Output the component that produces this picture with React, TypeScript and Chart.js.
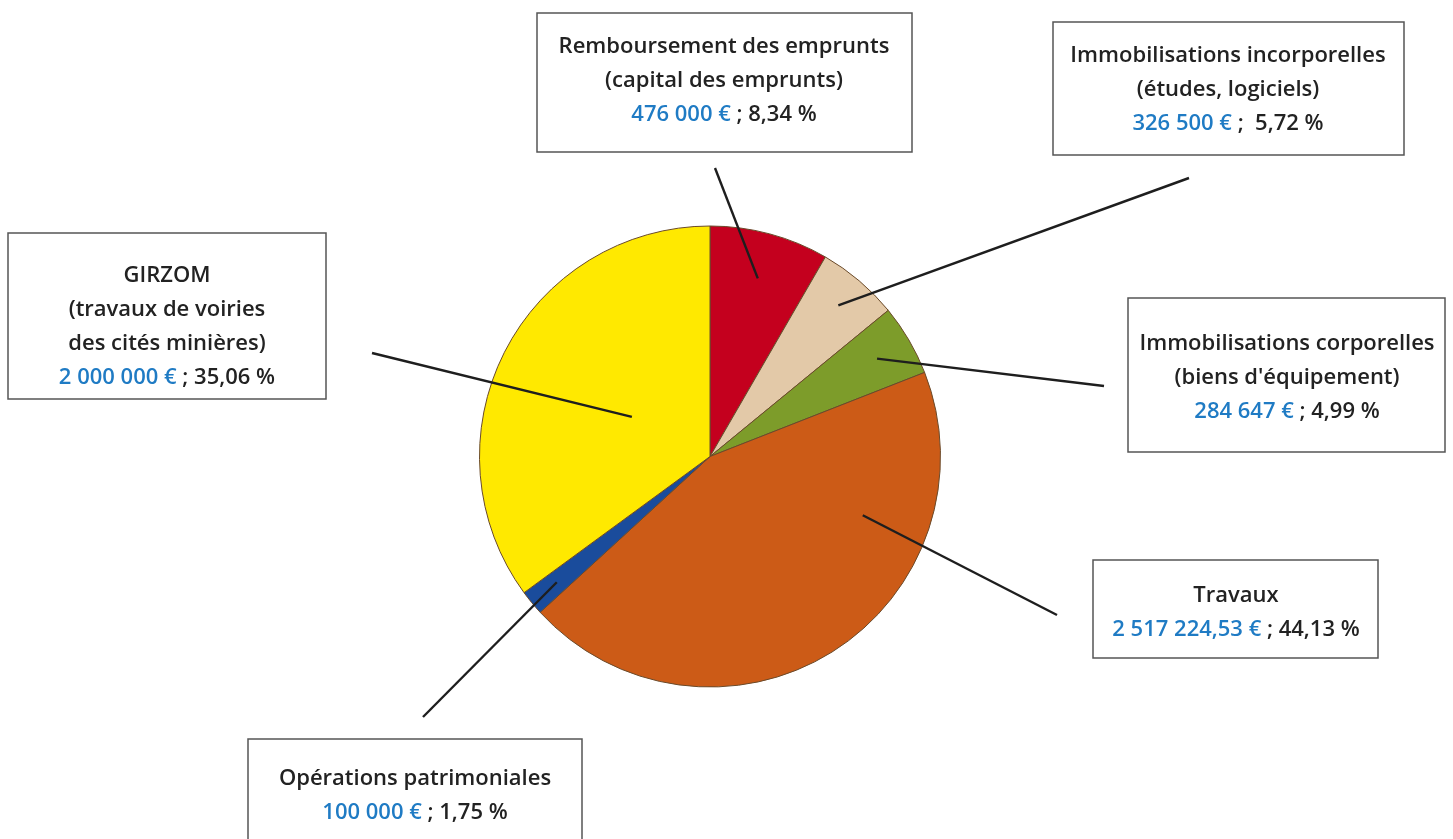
import React, { useEffect, useRef } from "react";
import { Chart, registerables } from "chart.js";

Chart.register(...registerables);

// ---- data ----
const CATEGORIES = [
  "Remboursement des emprunts",
  "Immobilisations incorporelles",
  "Immobilisations corporelles",
  "Travaux",
  "Opérations patrimoniales",
  "GIRZOM",
];
const TITLE_LINES: string[][] = [
  ["Remboursement des emprunts", "(capital des emprunts)"],
  ["Immobilisations incorporelles", "(études, logiciels)"],
  ["Immobilisations corporelles", "(biens d'équipement)"],
  ["Travaux"],
  ["Opérations patrimoniales"],
  ["GIRZOM", "(travaux de voiries", "des cités minières)"],
];
const VALUES = [476000, 326500, 284647, 2517224.53, 100000, 2000000];
const AMOUNT_TEXT = ["476 000 €", "326 500 €", "284 647 €", "2 517 224,53 €", "100 000 €", "2 000 000 €"];
const PERCENT_TEXT = [" ; 8,34 %", " ;  5,72 %", " ; 4,99 %", " ; 44,13 %", " ; 1,75 %", " ; 35,06 %"];
const COLORS = ["#C4001E", "#E3C9A8", "#7D9C2A", "#CC5B17", "#1A4C9C", "#FFE900"];

// ---- layout (positions / styles) ----
const BOXES = [
  { x: 537, y: 13, w: 375, h: 139, cx: 724, firstBase: 53, lx: 715, ly: 168, t: 0.5, r: 0.8 },
  { x: 1053, y: 22, w: 351, h: 133, cx: 1228, firstBase: 62, lx: 1189, ly: 178, t: 0.5, r: 0.86 },
  { x: 1128, y: 298, w: 317, h: 154, cx: 1287, firstBase: 350, lx: 1104, ly: 386, t: 0.5, r: 0.84 },
  { x: 1093, y: 560, w: 285, h: 98, cx: 1236, firstBase: 602, lx: 1057, ly: 615, t: 0.267, r: 0.71 },
  { x: 248, y: 739, w: 334, h: 110, cx: 415, firstBase: 785, lx: 423, ly: 717, t: 0.5, r: 0.86 },
  { x: 8, y: 233, w: 318, h: 166, cx: 167, firstBase: 282, lx: 372, ly: 353, t: 0.5, r: 0.38 },
];
const LINE_GAP = 34;
const FONT = "600 22px 'Open Sans', sans-serif";
const BLUE = "#1F7BC4";
const DARK = "#222222";

const calloutPlugin = {
  id: "callouts",
  afterDatasetsDraw(chart: any) {
    const ctx = chart.ctx as CanvasRenderingContext2D;
    const meta = chart.getDatasetMeta(0);
    ctx.save();
    BOXES.forEach((b, i) => {
      const arc = meta.data[i] as any;
      const p = arc.getProps(["x", "y", "startAngle", "endAngle", "outerRadius"], true);
      const a = p.startAngle + (p.endAngle - p.startAngle) * b.t;
      const rr = p.outerRadius * b.r;
      const ex = p.x + Math.cos(a) * rr;
      const ey = p.y + Math.sin(a) * rr;
      // leader line
      ctx.strokeStyle = "#1e1e1e";
      ctx.lineWidth = 2.4;
      ctx.beginPath();
      ctx.moveTo(b.lx, b.ly);
      ctx.lineTo(ex, ey);
      ctx.stroke();
      // box
      ctx.fillStyle = "#ffffff";
      ctx.fillRect(b.x, b.y, b.w, b.h);
      ctx.strokeStyle = "#555555";
      ctx.lineWidth = 1.5;
      ctx.strokeRect(b.x, b.y, b.w, b.h);
      // text
      ctx.font = FONT;
      ctx.textBaseline = "alphabetic";
      ctx.textAlign = "left";
      const lines = TITLE_LINES[i];
      lines.forEach((ln, k) => {
        const w = ctx.measureText(ln).width;
        ctx.fillStyle = DARK;
        ctx.fillText(ln, b.cx - w / 2, b.firstBase + k * LINE_GAP);
      });
      const yv = b.firstBase + lines.length * LINE_GAP;
      const w1 = ctx.measureText(AMOUNT_TEXT[i]).width;
      const w2 = ctx.measureText(PERCENT_TEXT[i]).width;
      const x0 = b.cx - (w1 + w2) / 2;
      ctx.fillStyle = BLUE;
      ctx.fillText(AMOUNT_TEXT[i], x0, yv);
      ctx.fillStyle = DARK;
      ctx.fillText(PERCENT_TEXT[i], x0 + w1, yv);
    });
    ctx.restore();
  },
};

export default function App() {
  const ref = useRef<HTMLCanvasElement | null>(null);
  useEffect(() => {
    if (!ref.current) return;
    const chart = new Chart(ref.current, {
      type: "pie",
      data: {
        labels: CATEGORIES,
        datasets: [
          {
            data: VALUES,
            backgroundColor: COLORS,
            borderColor: "#6a4a2a",
            borderWidth: 1,
            hoverOffset: 0,
          },
        ],
      },
      options: {
        responsive: false,
        animation: false,
        events: [],
        layout: { padding: { left: 479, right: 512, top: 225, bottom: 151 } },
        plugins: { legend: { display: false }, tooltip: { enabled: false } },
      },
      plugins: [calloutPlugin],
    });
    return () => chart.destroy();
  }, []);
  return (
    <div style={{ position: "fixed", left: 0, top: 0, width: 1453, height: 839, background: "#fff" }}>
      <canvas ref={ref} width={1453} height={839} style={{ display: "block", width: 1453, height: 839 }} />
    </div>
  );
}
